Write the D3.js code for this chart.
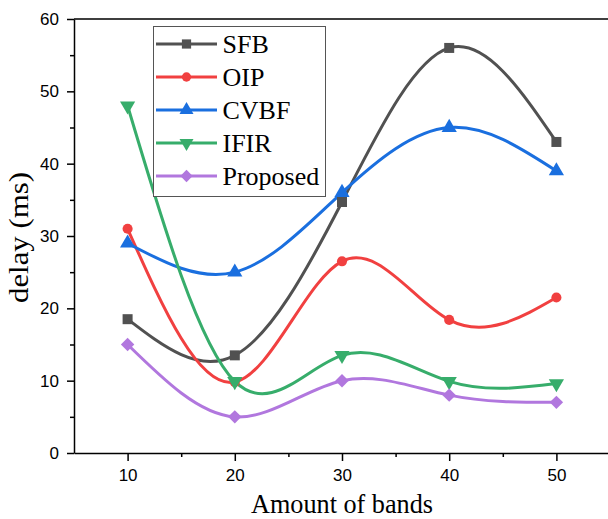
<!DOCTYPE html>
<html>
<head>
<meta charset="utf-8">
<script src="https://cdn.jsdelivr.net/npm/d3@7"></script>
<style>
  html, body { margin: 0; padding: 0; background: #fff; }
  svg { display: block; }
</style>
</head>
<body>
<svg id="chart" width="608" height="519"></svg>
<script>
// data
const bands = [10, 20, 30, 40, 50];
const sfb = [18.5, 13.5, 34.7, 56, 43];
const oip = [31, 9.8, 26.5, 18.4, 21.5];
const cvbf = [29, 25, 36, 45, 39];
const ifir = [48, 9.9, 13.5, 9.9, 9.6];
const proposed = [15, 5, 10, 8, 7];
const seriesNames = ["SFB", "OIP", "CVBF", "IFIR", "Proposed"];
const xTicks = [10, 20, 30, 40, 50];
const xMinorTicks = [15, 25, 35, 45];
const yTicks = [0, 10, 20, 30, 40, 50, 60];
const yMinorTicks = [5, 15, 25, 35, 45, 55];

const series = [
  { name: seriesNames[0], values: sfb, color: "#515151", marker: "square" },
  { name: seriesNames[1], values: oip, color: "#F14040", marker: "circle" },
  { name: seriesNames[2], values: cvbf, color: "#1A6FDF", marker: "up" },
  { name: seriesNames[3], values: ifir, color: "#37AD6B", marker: "down" },
  { name: seriesNames[4], values: proposed, color: "#B177DE", marker: "diamond" }
];

const svg = d3.select("#chart");
const m = { left: 74, top: 19, right: 610, bottom: 453 };
const serif = "'Times New Roman', 'Liberation Serif', serif";

const x = d3.scaleLinear().domain([5, 55]).range([m.left, m.right]);
const y = d3.scaleLinear().domain([0, 60]).range([m.bottom, m.top]);

// frame (top and right)
svg.append("path")
  .attr("d", `M${m.left},${m.top}H${m.right}V${m.bottom}`)
  .attr("fill", "none")
  .attr("stroke", "#000")
  .attr("stroke-width", 1.5);

// axes
svg.append("g")
  .attr("transform", `translate(0,${m.bottom})`)
  .call(d3.axisBottom(x).tickValues(xTicks).tickSize(8).tickPadding(8).tickSizeOuter(0));
svg.append("g")
  .attr("transform", `translate(0,${m.bottom})`)
  .call(d3.axisBottom(x).tickValues(xMinorTicks).tickSize(4).tickFormat("").tickSizeOuter(0))
  .call(g => g.select(".domain").remove());

svg.append("g")
  .attr("transform", `translate(${m.left},0)`)
  .call(d3.axisLeft(y).tickValues(yTicks).tickSize(7).tickPadding(8).tickSizeOuter(0));
svg.append("g")
  .attr("transform", `translate(${m.left},0)`)
  .call(d3.axisLeft(y).tickValues(yMinorTicks).tickSize(4).tickFormat("").tickSizeOuter(0))
  .call(g => g.select(".domain").remove());

svg.selectAll(".domain, .tick line").attr("stroke", "#000").attr("stroke-width", 1.5);
svg.selectAll(".tick text")
  .attr("font-family", "Arial, 'Liberation Sans', sans-serif")
  .attr("font-size", 17)
  .attr("fill", "#000");

// axis titles
svg.append("text")
  .attr("x", 342)
  .attr("y", 513)
  .attr("text-anchor", "middle")
  .attr("font-family", serif)
  .attr("font-size", 27)
  .attr("textLength", 182)
  .attr("lengthAdjust", "spacingAndGlyphs")
  .text("Amount of bands");

svg.append("text")
  .attr("transform", "translate(28,237.5) rotate(-90)")
  .attr("text-anchor", "middle")
  .attr("font-family", serif)
  .attr("font-size", 27)
  .attr("textLength", 131)
  .attr("lengthAdjust", "spacingAndGlyphs")
  .text("delay (ms)");

// lines
const line = d3.line()
  .x((d, i) => x(bands[i]))
  .y(d => y(d))
  .curve(d3.curveNatural);

const plot = svg.append("g");
series.forEach(s => {
  plot.append("path")
    .datum(s.values)
    .attr("d", line)
    .attr("fill", "none")
    .attr("stroke", s.color)
    .attr("stroke-width", 3);
});

function drawMarker(g, s, cx, cy, k) {
  let sym, size, rot = 0;
  if (s.marker === "square") { sym = d3.symbolSquare; size = 100; }
  else if (s.marker === "circle") { sym = d3.symbolCircle; size = 80; }
  else if (s.marker === "up") { sym = d3.symbolTriangle; size = 100; }
  else if (s.marker === "down") { sym = d3.symbolTriangle; size = 100; rot = 180; }
  else { sym = d3.symbolSquare; size = 90; rot = 45; }
  g.append("path")
    .attr("d", d3.symbol(sym, size * k)())
    .attr("transform", `translate(${cx},${cy}) rotate(${rot})`)
    .attr("fill", s.color);
}

series.forEach(s => {
  s.values.forEach((v, i) => drawMarker(plot, s, x(bands[i]), y(v), 1));
});

// legend
const legend = svg.append("g");
legend.append("rect")
  .attr("x", 153.5).attr("y", 26.5)
  .attr("width", 172).attr("height", 170)
  .attr("fill", "#fff")
  .attr("stroke", "#555")
  .attr("stroke-width", 1);

series.forEach((s, i) => {
  const ly = 44 + i * 33;
  legend.append("line")
    .attr("x1", 156).attr("x2", 217)
    .attr("y1", ly).attr("y2", ly)
    .attr("stroke", s.color)
    .attr("stroke-width", 3);
  drawMarker(legend, s, 186.5, ly, 0.85);
  legend.append("text")
    .attr("x", 222.5)
    .attr("y", ly + 9)
    .attr("font-family", serif)
    .attr("font-size", 26)
    .text(s.name);
});
</script>
</body>
</html>
